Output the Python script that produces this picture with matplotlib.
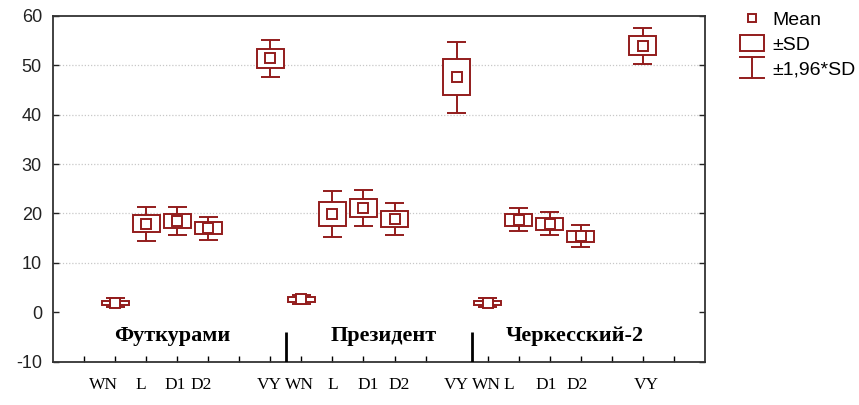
import matplotlib
matplotlib.use("Agg")
import matplotlib.pyplot as plt
import numpy as np
from matplotlib.patches import Rectangle
from matplotlib.lines import Line2D
from matplotlib.legend_handler import HandlerBase

plt.rcParams["axes.unicode_minus"] = False

# data
groups = ["Футкурами", "Президент", "Черкесский-2"]
categories = ["WN", "L", "D1", "D2", "VY"]
means = [
    [1.9, 17.9, 18.5, 17.0, 51.4],   # Футкурами
    [2.6, 19.9, 21.1, 18.9, 47.6],   # Президент
    [1.9, 18.7, 17.9, 15.4, 54.0],   # Черкесский-2
]
sds = [
    [0.45, 1.75, 1.45, 1.2, 1.9],
    [0.45, 2.4, 1.85, 1.65, 3.65],
    [0.45, 1.2, 1.2, 1.1, 1.85],
]
slots = [0, 1, 2, 3, 5]          # slot of each category inside a group (slot 4 empty)
group_size = 6
# where the texts sit (slot units)
label_x = [-0.36, 0.83, 1.93, 2.77, 4.96,
           5.95, 7.02, 8.15, 9.14, 11.0,
           11.95, 12.69, 13.88, 14.88, 17.1]
group_label_x = [1.83, 8.66, 14.81]

color = "#931c1c"
box_w = 0.87
cap_w = 0.61

fig = plt.figure(figsize=(8.59, 4.05), dpi=100)
ax = fig.add_axes([0.0617, 0.1074, 0.7590, 0.8531])

for g in range(len(groups)):
    for i, c in enumerate(categories):
        x = g * group_size + slots[i]
        m = means[g][i]
        s = sds[g][i]
        w = 1.96 * s
        ax.vlines(x, m + s, m + w, color=color, lw=1.4, zorder=3)
        ax.vlines(x, m - w, m - s, color=color, lw=1.4, zorder=3)
        ax.hlines([m + w, m - w], x - cap_w / 2, x + cap_w / 2, color=color, lw=1.4, zorder=3)
        ax.add_patch(Rectangle((x - box_w / 2, m - s), box_w, 2 * s, facecolor="white",
                               edgecolor=color, lw=1.4, zorder=4))
        ax.plot(x, m, marker="s", ms=6.5, mfc="white", mec=color, mew=1.4, ls="none", zorder=5)

for v in [10, 20, 30, 40, 50]:
    ax.axhline(v, color="#c8c8c8", lw=0.9, ls=(0, (1, 1.5)), zorder=1)

ax.set_xlim(-2, 19)
ax.set_ylim(-10, 60)
ax.set_yticks(np.arange(-10, 61, 10))
ax.tick_params(axis="y", direction="in", length=4, width=1, left=True, right=True,
               labelsize=13, colors="#222222", pad=8)
for t in ax.get_yticklabels():
    t.set_fontfamily("Liberation Sans")

ax.set_xticks(label_x)
ax.set_xticklabels(categories * len(groups), fontfamily="Liberation Serif", fontsize=12.5)
ax.set_xticks(np.arange(-1, 19), minor=True)
ax.tick_params(axis="x", which="major", length=0, pad=11)
ax.tick_params(axis="x", which="minor", direction="in", length=4, width=1)

for sp in ax.spines.values():
    sp.set_linewidth(1.3)
    sp.set_color("#333333")

# group separators and group names
for g in range(1, len(groups)):
    ax.vlines(g * group_size - 0.5, -10, -4.1, color="black", lw=2, zorder=3)
for gx, name in zip(group_label_x, groups):
    ax.text(gx, -4.9, name, ha="center", va="center",
            fontfamily="Liberation Serif", fontweight="bold", fontsize=16)


class WhiskerHandler(HandlerBase):
    def create_artists(self, legend, orig_handle, xdescent, ydescent, width, height, fontsize, trans):
        x0, x1 = -xdescent, -xdescent + width
        cx = (x0 + x1) / 2
        y0, y1 = -ydescent - 0.15 * height, -ydescent + 1.15 * height
        arts = [Line2D([x0, x1], [y1, y1]), Line2D([cx, cx], [y0, y1]), Line2D([x0, x1], [y0, y0])]
        for a in arts:
            a.set_color(color)
            a.set_linewidth(1.4)
            a.set_transform(trans)
        return arts


h_mean = Line2D([], [], marker="s", ms=6, mfc="white", mec=color, mew=1.4, ls="none")
h_sd = Rectangle((0, 0), 1, 1, facecolor="white", edgecolor=color, lw=1.4)
h_w = object()
leg = fig.legend([h_mean, h_sd, h_w], ["Mean", "±SD", "±1,96*SD"],
                 handler_map={h_w: WhiskerHandler()},
                 loc="upper left", bbox_to_anchor=(0.861, 0.975), frameon=False,
                 prop={"family": "Liberation Sans", "size": 14},
                 handlelength=1.25, handleheight=0.95, labelspacing=0.28, handletextpad=0.45,
                 borderaxespad=0, borderpad=0)

fig.savefig("out.png", dpi=100)
